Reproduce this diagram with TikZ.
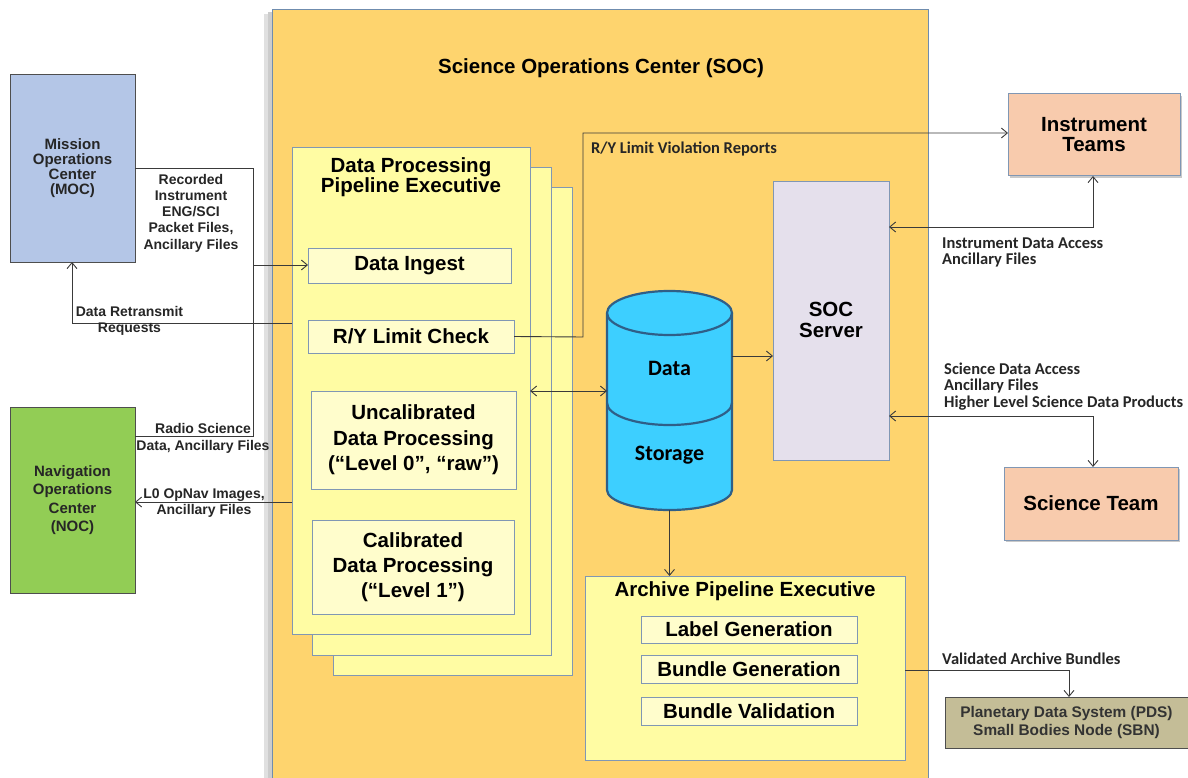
\documentclass[tikz,border=0pt]{standalone}
\usepackage{fontspec}
\setmainfont{Liberation Sans}
\newfontfamily\calib{Carlito}
\usetikzlibrary{arrows.meta,shadows}
\definecolor{socfill}{HTML}{FED46E}
\definecolor{socedge}{HTML}{6F8CAE}
\definecolor{pipefill}{HTML}{FFFCA3}
\definecolor{inner}{HTML}{FFFDCC}
\definecolor{boxedge}{HTML}{8097B4}
\definecolor{mocfill}{HTML}{B4C6E7}
\definecolor{nocfill}{HTML}{92CD55}
\definecolor{cylfill}{HTML}{3DCFFF}
\definecolor{cyledge}{HTML}{2F5F88}
\definecolor{srvfill}{HTML}{E5E0EC}
\definecolor{peach}{HTML}{F8CBAD}
\definecolor{tan}{HTML}{C4BD97}
\definecolor{linec}{HTML}{3A3A3A}
\tikzset{
  x=1pt,y=-1pt,
  box/.style={draw=boxedge,line width=1pt,inner sep=0pt,outer sep=0pt},
  darkbox/.style={draw=linec!90,line width=1pt,inner sep=0pt,outer sep=0pt},
  shad/.style={drop shadow={shadow xshift=2pt,shadow yshift=-2pt,opacity=0.35,fill=black!60}},
  conn/.style={draw=linec,line width=0.9pt,-{Straight Barb[length=6pt,width=10pt]}},
  conn2/.style={draw=linec,line width=0.9pt,{Straight Barb[length=6pt,width=10pt]}-{Straight Barb[length=6pt,width=10pt]}},
  plain/.style={draw=linec,line width=0.9pt},
  lbl/.style={font=\bfseries\fontsize{14}{16.2}\selectfont,text=black!85,align=center,inner sep=0pt},
  clbl/.style={font=\calib\bfseries\fontsize{16.5}{16.5}\selectfont,text=black!85,align=left,inner sep=0pt,anchor=west},
  bigf/.style={font=\bfseries\fontsize{20.5}{20.5}\selectfont},
}
\begin{document}
\begin{tikzpicture}
\useasboundingbox (0,0) rectangle (1188,778);
\fill[white] (0,0) rectangle (1188,778);
% SOC container
\fill[black!12] (264,14) rectangle (272,778);
\fill[black!20] (268,12) rectangle (272,778);
\path[fill=socfill,draw=socedge,line width=1pt] (272,10) rectangle (928,780);
\node[bigf,inner sep=0pt] (soct) at (601,68) {Science Operations Center (SOC)};
% MOC / NOC
\node[darkbox,fill=mocfill,minimum width=125pt,minimum height=187pt,anchor=north west,
      font=\bfseries\fontsize{15}{15}\selectfont,align=center,text=black!85] (moc) at (10,75) {Mission\\Operations\\Center\\(MOC)};
\node[darkbox,fill=nocfill,minimum width=125pt,minimum height=186pt,anchor=north west,
      font=\bfseries\fontsize{15}{18.5}\selectfont,align=center,text=black!85] (noc) at (10,407) {Navigation\\Operations\\Center\\(NOC)};
% pipeline stack
\path[box,fill=pipefill] (333,188) rectangle (572,675);
\path[box,fill=pipefill] (312,168) rectangle (551,655);
\node[box,fill=pipefill,minimum width=238pt,minimum height=486pt,anchor=north west] (pipe) at (292,148) {};
\node[bigf,align=center,inner sep=0pt] (pipet) at (411,177) {Data Processing\\Pipeline Executive};
\node[box,bigf,fill=inner,minimum width=203pt,minimum height=35pt,anchor=north west] (ingest) at (308,248) {Data Ingest};
\node[box,bigf,fill=inner,minimum width=206pt,minimum height=33pt,anchor=north west] (ry) at (308,320) {R/Y Limit Check};
\node[box,fill=inner,minimum width=205pt,minimum height=98pt,anchor=north west,font=\bfseries\fontsize{20.5}{25.5}\selectfont,align=center] (uncal) at (311,391) {Uncalibrated\\Data Processing\\(“Level 0”, “raw”)};
\node[box,fill=inner,minimum width=202pt,minimum height=94pt,anchor=north west,font=\bfseries\fontsize{20.5}{25}\selectfont,align=center] (cal) at (312,520) {Calibrated\\Data Processing\\(“Level 1”)};
% cylinder
\path[fill=cylfill,draw=cyledge,line width=2.2pt] (607,313) -- (607,490) arc[start angle=180,end angle=0,x radius=62.5,y radius=20] -- (732,313) arc[start angle=0,end angle=-180,x radius=62.5,y radius=22] -- cycle;
\draw[cyledge,line width=2.2pt] (607,313) arc[start angle=180,end angle=0,x radius=62.5,y radius=22];
\draw[cyledge,line width=2.2pt] (607,403) arc[start angle=180,end angle=0,x radius=62.5,y radius=22];
\node[font=\calib\bfseries\fontsize{22}{22}\selectfont] (dat) at (669.5,368) {Data};
\node[font=\calib\bfseries\fontsize{22}{22}\selectfont] (stor) at (669.5,455) {Storage};
\coordinate (cylL) at (607,391);
\coordinate (cylR) at (732,356);
\coordinate (cylB) at (669.5,510);
% SOC server
\node[box,fill=srvfill,minimum width=116pt,minimum height=278pt,anchor=north west] (srv) at (773,182) {};
\node[bigf,align=center,inner sep=0pt] (srvt) at (831,320) {SOC\\Server};
% archive
\node[box,fill=pipefill,minimum width=320pt,minimum height=184pt,anchor=north west] (arch) at (585,576) {};
\node[bigf,inner sep=0pt] (archt) at (745,591) {Archive Pipeline Executive};
\node[box,bigf,fill=inner,minimum width=216pt,minimum height=27pt,anchor=north west] (lg) at (641,616) {Label Generation};
\node[box,bigf,fill=inner,minimum width=216pt,minimum height=28pt,anchor=north west] (bg) at (641,655) {Bundle Generation};
\node[box,bigf,fill=inner,minimum width=216pt,minimum height=28pt,anchor=north west] (bv) at (641,697) {Bundle Validation};
% right side
\node[box,fill=peach,shad,minimum width=172pt,minimum height=82pt,anchor=north west,font=\bfseries\fontsize{20.5}{20}\selectfont,align=center] (it) at (1008,94) {Instrument\\Teams};
\node[box,bigf,fill=peach,shad,minimum width=174pt,minimum height=73pt,anchor=north west] (st) at (1004,467) {Science Team};
\node[darkbox,fill=tan,minimum width=243pt,minimum height=51pt,anchor=north west,font=\bfseries\fontsize{15.4}{18}\selectfont,align=center,text=black!80] (pds) at (945,697) {Planetary Data System (PDS)\\Small Bodies Node (SBN)};
% connectors
\coordinate (j1) at (253.5,168);
\coordinate (j2) at (253.5,265);
\coordinate (j3) at (253.5,436);
\draw[plain] (moc.east |- j1) -- (j1) -- (j3) -- (noc.east |- j3);
\draw[conn] (j2) -- (ingest.west |- j2);
\draw[conn] (pipe.west |- 0,323) -- (72,323) -- (72,262);
\draw[conn] (pipe.west |- 0,502) -- (noc.east |- 0,502);
\draw[conn] (ry.east) -- (583,337) -- (583,133) -- (it.west |- 0,133);
\draw[conn2] (pipe.east |- cylL) -- (cylL);
\draw[conn] (cylR) -- (srv.west |- cylR);
\draw[conn2] (srv.east |- 0,227) -- (1093,227) -- (it.south -| 1093,0);
\draw[conn2] (srv.east |- 0,416) -- (1093,416) -- (st.north -| 1093,0);
\draw[conn] (cylB) -- (arch.north -| cylB);
\draw[conn] (arch.east |- 0,670) -- (1069,670) -- (pds.north -| 1069,0);
% labels
\node[lbl] (l1) at (191,213) {Recorded\\Instrument\\ENG/SCI\\Packet Files,\\Ancillary Files};
\node[lbl] (l2) at (129.5,321) {Data Retransmit\\Requests};
\node[lbl,font=\bfseries\fontsize{14}{17}\selectfont] (l3) at (203,438) {Radio Science\\Data, Ancillary Files};
\node[lbl] (l4) at (204,503) {L0 OpNav Images,\\Ancillary Files};
\node[clbl] (l5) at (591,149) {R/Y Limit Violation Reports};
\node[clbl] (l6) at (942,252.5) {Instrument Data Access\\Ancillary Files};
\node[clbl] (l7) at (944,386.5) {Science Data Access\\Ancillary Files\\Higher Level Science Data Products};
\node[clbl] (l8) at (942,659) {Validated Archive Bundles};
\end{tikzpicture}
\end{document}
